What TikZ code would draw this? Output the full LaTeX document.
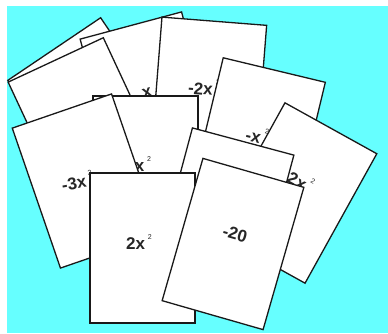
\documentclass[tikz,border=0pt]{standalone}
\usepackage{fontspec}
\setsansfont{Liberation Sans}
\definecolor{sky}{RGB}{102,255,255}
\newcommand{\squared}{\,\raisebox{1.2ex}{\fontsize{7}{8}\selectfont\mdseries 2}}

\tikzset{
  card/.style={draw=black!90, fill=white, line width=1.3pt,
    minimum width=105pt, minimum height=148pt, inner sep=0pt},
  cardtext/.style={font=\sffamily\bfseries\fontsize{17}{20}\selectfont,
    text=black!85, inner sep=0pt}
}

\begin{document}
\begin{tikzpicture}[x=1pt,y=-1pt]
  \useasboundingbox (0,0) rectangle (388,333);
  \fill[white] (0,0) rectangle (388,333);
  \fill[sky] (7,6) rectangle (388,333);
  % cards at the back
  \node[card, rotate=34, minimum width=112pt] (cardA) at (95.6,110.4) {};
  \node[card, rotate=15] (cardB) at (150,97) {};
  \node[cardtext, rotate=15] (textB) at (147,93) {x};
  \node[card, rotate=25] (cardC) at (87,127) {};
  \node[card, rotate=-4.5] (cardD) at (208.5,95) {};
  \node[cardtext, rotate=-4.5] (textD) at (204,87) {-2x\squared};
  \node[card] (cardE) at (145.5,170) {};
  \node[cardtext] (textE) at (143,164) {x\squared};
  % middle row
  \node[card, rotate=19] (cardF) at (86,181) {};
  \node[cardtext, rotate=10] (textF) at (77,181) {-3x\squared};
  \node[card, rotate=-13.5] (cardG) at (257,142) {};
  \node[cardtext, rotate=-13.5] (textG) at (257,135) {-x\squared};
  \node[card, rotate=-29] (cardH) at (295,193) {};
  \node[cardtext, rotate=-29] (textH) at (301,181) {2x\squared};
  \node[card, rotate=-15] (cardI) at (224,213) {};
  % cards in front
  \node[card, minimum height=150pt] (cardJ) at (142.5,248) {};
  \node[cardtext] (textJ) at (139,242) {2x\squared};
  \node[card, rotate=-16] (cardK) at (233,244) {};
  \node[cardtext, rotate=-16] (textK) at (235,234) {-20};
\end{tikzpicture}
\end{document}
